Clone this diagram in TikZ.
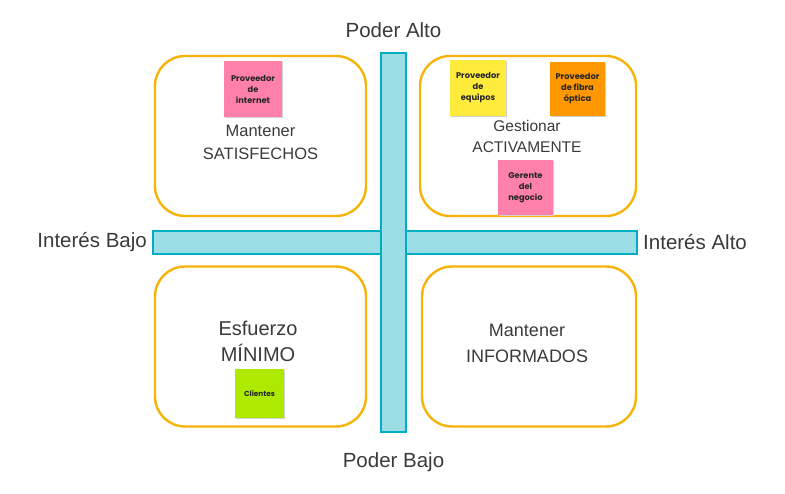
\documentclass[tikz,border=0pt]{standalone}
\usepackage{fontspec}
\setmainfont{Liberation Sans}
\newfontfamily\notefont{Poppins}
\usetikzlibrary{positioning}
\definecolor{boxorange}{HTML}{F6B40A}
\definecolor{barfill}{HTML}{9BDEE6}
\definecolor{barline}{HTML}{00AEC4}
\definecolor{txt}{HTML}{3A3A3A}
\definecolor{notepink}{HTML}{FF80AB}
\definecolor{noteyellow}{HTML}{FFEB3B}
\definecolor{noteorange}{HTML}{FF9800}
\definecolor{notelime}{HTML}{AEEA00}
\tikzset{
  quad/.style={draw=boxorange, line width=2.4pt, rounded corners=30pt, minimum width=211pt, minimum height=160pt, inner sep=0pt},
  bar/.style={draw=barline, fill=barfill, line width=2pt, inner sep=0pt},
  lab/.style={text=txt, font=\fontsize{20.5}{24}\selectfont, inner sep=0pt, align=center},
  note/.style={inner sep=0pt, align=center, text=black!85, font=\notefont\bfseries\fontsize{8.3}{11}\selectfont, minimum width=56pt, minimum height=56pt},
  shadowed/.style={preaction={fill=black!18, transform canvas={xshift=1pt, yshift=-1pt}}}
}
\begin{document}
\begin{tikzpicture}[x=1pt, y=-1pt]
\useasboundingbox (0,0) rectangle (785,494);
% quadrants
\node[quad] (tl) at (260.5,136) {};
\node[quad, minimum width=216pt] (tr) at (528,136) {};
\node[quad] (bl) at (260.5,346.5) {};
\node[quad, minimum width=214pt] (br) at (529,346.5) {};
% bars
\node[bar, minimum width=484pt, minimum height=23pt] (hbar) at (395,242.5) {};
\node[bar, minimum width=25pt, minimum height=379pt] (vbar) at (393.5,242.5) {};
% axis labels
\node[lab, anchor=south] (palto) at (393.5,38) {Poder Alto};
\node[lab, anchor=north] (pbajo) at (393.5,452) {Poder Bajo};
\node[lab, anchor=east] (ibajo) at (147,242.5) {Interés Bajo};
\node[lab, anchor=west] (ialto) at (643,242.5) {Interés Alto};
% quadrant texts
\node[lab, font=\fontsize{16.5}{23}\selectfont] (tltxt) at (260.5,142) {Mantener\\SATISFECHOS};
\node[lab, font=\fontsize{15.5}{21}\selectfont] (trtxt) at (527,136) {Gestionar\\ACTIVAMENTE};
\node[lab, font=\fontsize{20}{26}\selectfont] (bltxt) at (258,341) {Esfuerzo\\MÍNIMO};
\node[lab, font=\fontsize{18}{26}\selectfont] (brtxt) at (527,343) {Mantener\\INFORMADOS};
% sticky notes
\node[note, shadowed, fill=notepink, minimum width=58pt] (n1) at (253,89) {Proveedor\\de\\internet};
\node[note, shadowed, fill=noteyellow] (n2) at (478,88) {Proveedor\\de\\equipos};
\node[note, shadowed, fill=noteorange, minimum width=55pt, minimum height=54pt] (n3) at (577.5,89) {Proveedor\\de fibra\\óptica};
\node[note, shadowed, fill=notepink, minimum width=55pt, minimum height=55pt] (n4) at (525.5,187.5) {Gerente\\del\\negocio};
\node[note, shadowed, fill=notelime, minimum width=49pt, minimum height=49pt, font=\notefont\bfseries\fontsize{7.3}{9}\selectfont] (n5) at (259.5,393.5) {Clientes};
\end{tikzpicture}
\end{document}
